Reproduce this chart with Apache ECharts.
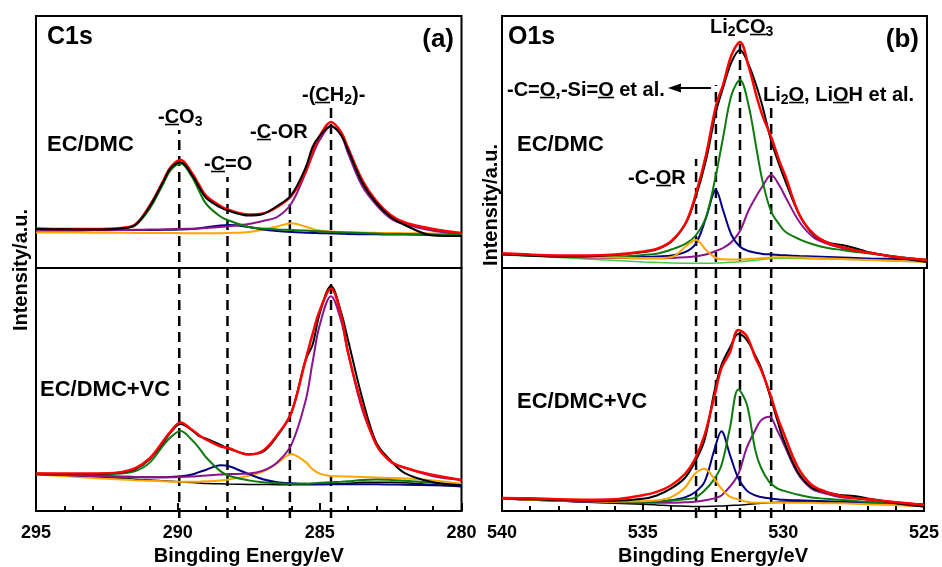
<!DOCTYPE html>
<html><head><meta charset="utf-8">
<script src="https://cdn.jsdelivr.net/npm/echarts@6/dist/echarts.min.js"></script>
<style>html,body{margin:0;padding:0;background:#fff}#c{width:942px;height:567px}</style>
</head><body><div id="c"></div>
<script>
// ---------- C1s (panel a) ----------
const energyA = [295, 294, 293, 292, 291.5, 291, 290.5, 290.25, 289.9, 289.5, 289.25, 289, 288.5, 288.2, 287.5, 287, 286.5, 286, 285.5, 285.25, 285, 284.6, 284.25, 284, 283.5, 283, 282.5, 282, 281, 280];
const ticksA = [295, 290, 285, 280];
// EC/DMC
const aTopRaw = [39, 38.7, 38.5, 39.5, 43, 61, 87, 100, 105.5, 93, 80.7, 70, 60.5, 57, 52.5, 54, 62, 73, 100, 121, 132, 142, 133, 118, 85.5, 65, 51, 43, 32.5, 32];
const aTopFit = [39.5, 39, 39, 40, 43.5, 62, 88, 101, 108, 95, 83, 72, 62, 58, 53.5, 54.5, 61, 72, 96, 116, 132, 146, 136, 120, 88, 67, 53, 45.5, 39, 35];
const aTopCO3 = [39, 39, 39, 39.5, 42.5, 59, 85, 98, 104.5, 91, 77, 64, 51.5, 47.5, 41, 39.5, 38.5, 38, 37.5, 37, 36.7, 36, 35.7, 35.5, 35, 34.5, 34, 34, 33.5, 33];
const aTopCO = [38, 38, 38, 38, 38, 38, 38.2, 38.3, 38.5, 39, 39.7, 40.7, 42.5, 43, 41, 38.5, 37, 36, 35.3, 35, 34.8, 34.5, 34.3, 34, 33.8, 33.7, 33.5, 33.4, 33, 32.7];
const aTopCOR = [35.5, 35.5, 35.3, 35.2, 35.1, 35, 35, 35, 34.8, 34.7, 34.7, 34.7, 34.8, 35, 36, 38.5, 41.5, 44.7, 41.5, 39, 37.5, 36.5, 36, 35.7, 35.5, 35.2, 35, 34.8, 34.5, 34];
const aTopCH2 = [37.5, 37.5, 37.7, 38, 38.2, 38.4, 38.6, 38.8, 39, 39.3, 39.6, 40, 41, 41.7, 44, 47, 51, 64.5, 95, 113, 128, 141.5, 133, 114.7, 82, 63, 49.7, 43.7, 37.3, 34];
// EC/DMC+VC
const aBotRaw = [38.5, 38, 38, 39.5, 43, 53, 71, 81, 89.5, 83, 77, 74.5, 68, 64, 58.5, 61, 77, 101, 155, 171, 203, 231.5, 205, 176, 116.3, 70, 52, 39, 29.5, 26.5];
const aBotFit = [38.7, 38.5, 38.5, 40, 44, 54, 72.5, 82, 91, 83.5, 78, 73.5, 66.5, 64.5, 58, 62, 78, 101, 155, 182, 206, 229, 202, 163, 108, 68, 51, 44.5, 37, 32];
const aBotCO3 = [37.5, 37.5, 37.7, 38.5, 41, 49.5, 68, 76, 82.3, 73, 64.7, 55, 41, 36.3, 31.5, 29.5, 28.5, 28, 28, 28.5, 29, 29.5, 30, 30.5, 32, 32.5, 32, 31, 29, 26.5];
const aBotCO = [38, 37, 36, 35.3, 35, 34.7, 34.7, 35, 35.7, 37.5, 40, 42.5, 47, 46, 38, 32.7, 29.7, 28.5, 28, 27.7, 27.5, 27.5, 27.5, 27.5, 27.5, 27.5, 27.3, 27, 26.5, 26];
const aBotCOR = [37.5, 36, 34, 32.5, 31.7, 31, 30.5, 30.2, 30, 30, 30.2, 30.5, 31.5, 32.5, 36.3, 40.5, 49, 58.5, 50.5, 43, 38.5, 36, 35.7, 35.5, 35, 34.5, 34, 33.5, 31.5, 28];
const aBotCH2 = [38, 37, 36, 35.3, 35, 34.7, 34.7, 34.8, 35, 35.5, 36, 36.5, 37.5, 38, 38.5, 41.5, 50, 68, 113, 153, 191, 221, 196.3, 163, 104.5, 69.7, 50.7, 44.7, 35.7, 32];
const aBotBg = [38, 36.5, 35, 33.5, 32.7, 32, 31, 30.5, 30, 29.2, 28.8, 28.4, 28, 27.7, 27.3, 27.2, 27.1, 27, 27, 27.1, 27.2, 27.5, 28, 28.5, 29.5, 29.7, 29.5, 29, 27, 25];
// peak position guides (eV) and their top heights
const dashA = [289.95, 288.25, 286.05, 284.6];
const dashATop = [388, 341, 365, 411];

// ---------- O1s (panel b) ----------
const energyB = [540, 539, 538, 537, 536, 535, 534.5, 534, 533.5, 533.15, 532.8, 532.45, 532.2, 531.9, 531.6, 531.3, 531, 530.8, 530.5, 530.2, 530, 529.5, 529, 528.5, 528, 527.5, 527, 526, 525];
const ticksB = [540, 535, 530, 525];
const bTopRaw = [13.7, 12.5, 11.5, 11.5, 13, 16, 19, 27, 45.5, 72, 108, 156, 180, 206, 218, 203.5, 180.3, 161, 127.3, 102, 87, 53, 33, 25.5, 23, 19.5, 15.5, 10, 6];
const bTopFit = [14.7, 13.5, 12.5, 12.5, 13.5, 16.5, 19.5, 27.5, 46, 75, 113, 162, 183, 213, 226, 202, 170, 152, 131, 106, 92, 53, 34, 25, 21, 17.5, 15, 10.5, 8];
const bTopLi2CO3 = [13.5, 12.5, 12, 11.5, 11.5, 13, 14.5, 18.7, 24.7, 33, 51, 93, 130, 173, 188, 163, 116.3, 86.3, 56.3, 43, 36.3, 28.7, 23.5, 20, 18, 16, 14.5, 11, 8];
const bTopCO = [14, 13, 12, 11.5, 11, 11, 11.5, 12.5, 16.3, 24.7, 50, 78, 58, 33, 21.3, 17, 15, 14, 13.5, 13, 12.7, 12, 11.5, 11, 10.5, 10, 9.5, 9, 8];
const bTopLi2O = [14, 12.5, 11.5, 10.5, 10, 9.7, 9.7, 10, 10.7, 11.7, 13.5, 17, 20, 26, 37, 57.5, 73, 82, 93, 82, 71.3, 46, 30.5, 24, 20, 17, 15, 11, 8];
const bTopCOR = [14, 13, 12, 11, 10.5, 10, 10, 11, 22, 28, 18, 10, 8.7, 8.5, 8.5, 9, 9.5, 10, 10.5, 10.7, 10.7, 10.5, 10, 9.5, 9, 8.5, 8, 7, 6.3];
const bTopBg = [13.5, 12, 10.5, 9, 7.5, 6, 5.5, 5, 4.7, 4.7, 4.7, 5, 5.2, 5.7, 6.3, 7, 8, 8.5, 9.5, 9.7, 9.7, 9.5, 9.2, 9, 8.7, 8.5, 8, 7, 6];
const bBotRaw = [13, 12, 11, 10.5, 10.5, 12.5, 16, 23, 34, 50, 73, 123, 150, 168, 182, 176, 160, 148, 121, 92, 74, 41, 24.5, 19.5, 16.5, 15.5, 13, 8, 4.5];
const bBotFit = [13.5, 13, 12, 11.5, 12, 16.3, 19.7, 26.3, 38, 53, 78, 118, 147, 163, 186.3, 180, 158, 146, 123, 96, 81, 46, 27, 20, 16, 13.5, 12, 9, 6.3];
const bBotLi2CO3 = [13, 12, 11, 10.5, 10, 9.5, 9.5, 10.5, 12, 13.5, 21, 33, 47, 85, 125, 110, 63, 45, 30, 23, 21, 17, 14, 12.5, 11.5, 10.5, 9.5, 8, 7];
const bBotCO = [13, 11.5, 10.5, 9.5, 9, 9, 9.5, 11, 14, 19, 30, 63, 82, 58, 33.7, 21, 16, 14.5, 13, 12, 11.5, 11, 10.5, 10, 9.5, 9, 8.5, 7.5, 6.5];
const bBotLi2O = [13, 11.5, 10.5, 9.5, 9, 8.5, 8.5, 8.5, 9, 9.5, 11, 13, 16, 25, 38, 65, 83, 93, 97, 82, 70, 39, 23, 18, 14.5, 13, 11.5, 9, 6.3];
const bBotCOR = [13, 11.5, 10.5, 10, 9.5, 10, 11, 14, 24, 38, 43.5, 33, 23, 14.7, 12, 9.5, 8.5, 8.5, 8.5, 8.5, 8.5, 8.5, 8.5, 8, 8, 7.5, 7, 6, 5];
const bBotBg = [12.5, 11.5, 10.5, 9, 8, 7, 6.3, 5.5, 5, 4.7, 4.7, 5, 5.2, 5.7, 6, 6.7, 7.5, 8, 8.5, 9, 9.2, 9.5, 9.5, 9.3, 9, 8.5, 8, 6.5, 4.5];
const dashB = [533.15, 532.45, 531.6, 530.5];
const dashBTop = [359, 433, 478, 410];

// ---------- chart ----------
const FF = '"Liberation Sans", Arial, Helvetica, sans-serif';
const C = {raw:'#000000', fit:'#ff0000', green:'#0e7a0e', navy:'#000080', purple:'#8b138b', orange:'#ffa500', bgGreen:'#44cc44'};

function pairs(xs, ys){ return xs.map((x,i)=>[x, ys[i]]); }
function ln(gi, xs, ys, color, w, z){
  return {type:'line', xAxisIndex:gi, yAxisIndex:gi, data:pairs(xs, ys), smooth:0.35, symbol:'none',
    lineStyle:{color:color, width:w}, z:z, silent:true, animation:false};
}
function dash(gi, e, top){
  return {type:'line', xAxisIndex:gi, yAxisIndex:gi, data:[[e,0],[e,top]], symbol:'none',
    lineStyle:{color:'#000', width:2.5, type:[10,6]}, z:1, silent:true, animation:false};
}

const grids = [
  {left:36, width:425.5, top:16, height:252},
  {left:36, width:425.5, top:268, height:250},
  {left:502, width:425, top:16, height:252},
  {left:502, width:425, top:268, height:250},
  {left:36, width:425.5, top:16, height:502},
  {left:502, width:425, top:16, height:502}
].map((g,i)=>Object.assign(g, {show: i<4, borderColor:'#000', borderWidth:2, backgroundColor:'transparent'}));

function xAx(gi, min, max, visible){
  return {gridIndex:gi, type:'value', min:min, max:max, interval:5, inverse:true, show:visible,
    axisLine:{show:true, onZero:false, lineStyle:{color:'#000', width:2}},
    axisTick:{show:true, inside:true, length:8, lineStyle:{color:'#000', width:2}},
    minorTick:{show:true, splitNumber:5, length:5, lineStyle:{color:'#000', width:2}},
    splitLine:{show:false},
    axisLabel:{color:'#000', fontSize:18, fontWeight:'bold', fontFamily:FF, margin:13},
    name:'Bingding Energy/eV', nameLocation:'middle', nameGap:35,
    nameTextStyle:{color:'#000', fontSize:20, fontWeight:'bold', fontFamily:FF}};
}
function yAx(gi, max){ return {gridIndex:gi, type:'value', min:0, max:max, show:false}; }

const xAxes = [xAx(0,280,295,false), xAx(1,280,295,true), xAx(2,525,540,false), xAx(3,525,540,true), xAx(4,280,295,false), xAx(5,525,540,false)];
const yAxes = [yAx(0,252), yAx(1,250), yAx(2,252), yAx(3,250), yAx(4,502), yAx(5,502)];

const series = [];
dashA.forEach((e,i)=>series.push(dash(4, e, dashATop[i])));
dashB.forEach((e,i)=>series.push(dash(5, e, dashBTop[i])));
// panel a top
series.push(ln(0, energyA, aTopCOR, C.orange, 2, 2), ln(0, energyA, aTopCO, C.navy, 2, 2), ln(0, energyA, aTopCH2, C.purple, 2, 2),
  ln(0, energyA, aTopCO3, C.green, 2, 2), ln(0, energyA, aTopFit, C.fit, 2.5, 3), ln(0, energyA, aTopRaw, C.raw, 2, 4));
// panel a bottom
series.push(ln(1, energyA, aBotBg, C.raw, 1.5, 1), ln(1, energyA, aBotCOR, C.orange, 2, 2), ln(1, energyA, aBotCO, C.navy, 2, 2),
  ln(1, energyA, aBotCH2, C.purple, 2, 2), ln(1, energyA, aBotCO3, C.green, 2, 2), ln(1, energyA, aBotRaw, C.raw, 2, 3), ln(1, energyA, aBotFit, C.fit, 2.5, 4));
// panel b top
series.push(ln(2, energyB, bTopBg, C.bgGreen, 1.5, 1), ln(2, energyB, bTopLi2O, C.purple, 2, 2), ln(2, energyB, bTopCO, C.navy, 2, 2),
  ln(2, energyB, bTopLi2CO3, C.green, 2, 2), ln(2, energyB, bTopCOR, C.orange, 2, 2), ln(2, energyB, bTopRaw, C.raw, 2, 3), ln(2, energyB, bTopFit, C.fit, 2.5, 4));
// panel b bottom
series.push(ln(3, energyB, bBotBg, C.raw, 1.5, 1), ln(3, energyB, bBotLi2O, C.purple, 2, 2), ln(3, energyB, bBotCO, C.navy, 2, 2),
  ln(3, energyB, bBotLi2CO3, C.green, 2, 2), ln(3, energyB, bBotCOR, C.orange, 2, 2), ln(3, energyB, bBotRaw, C.raw, 2, 3), ln(3, energyB, bBotFit, C.fit, 2.5, 4));

// underline image for rich text
function ulImg(){ const c=document.createElement('canvas'); c.width=4; c.height=24; const g=c.getContext('2d'); g.fillStyle='#000'; g.fillRect(0,20,4,2); return c; }
const UL = ulImg();
const rich = {
  u:{fontSize:20, fontWeight:'bold', fontFamily:FF, lineHeight:24, color:'#000', backgroundColor:{image:UL}},
  s:{fontSize:14, fontWeight:'bold', fontFamily:FF, lineHeight:8, verticalAlign:'bottom', color:'#000'}
};
function txt(x, y, text, size, align, rot){
  const el = {type:'text', x:x, y:y, z:100, silent:true,
    style:{text:text, fontSize:size, fontWeight:'bold', fontFamily:FF, fill:'#000', align:align||'left', verticalAlign:'middle', lineHeight:24, rich:rich}};
  if (rot) el.rotation = rot;
  return el;
}
const graphics = [
  txt(47, 37, 'C1s', 25), txt(454, 40, '(a)', 26, 'right'),
  txt(47, 145, 'EC/DMC', 22), txt(40, 390, 'EC/DMC+VC', 22),
  txt(158, 117, '-{u|C}O{s|3}', 20), txt(204, 164, '-{u|C}=O', 20), txt(250, 132, '-{u|C}-OR', 20), txt(302, 95, '-({u|C}H{s|2})-', 20),
  txt(21, 270, 'Intensity/a.u.', 20, 'center', Math.PI/2),
  txt(508, 37, 'O1s', 25), txt(919, 40, '(b)', 26, 'right'),
  txt(517, 145, 'EC/DMC', 22), txt(517, 402, 'EC/DMC+VC', 22),
  txt(710, 27, 'Li{s|2}C{u|O}{s|3}', 20), txt(507, 90, '-C={u|O},-Si={u|O} et al.', 20),
  txt(763, 95, 'Li{s|2}{u|O}, Li{u|O}H et al.', 20), txt(628, 178, '-C-{u|O}R', 20),
  txt(491, 205, 'Intensity/a.u.', 20, 'center', Math.PI/2),
  {type:'line', z:100, silent:true, shape:{x1:711, y1:88, x2:676, y2:88}, style:{stroke:'#000', lineWidth:2}},
  {type:'polygon', z:100, silent:true, shape:{points:[[668,88],[681,83.5],[681,92.5]]}, style:{fill:'#000'}}
];

const chart = echarts.init(document.getElementById('c'), null, {renderer:'canvas'});
chart.setOption({animation:false, backgroundColor:'#fff', grid:grids, xAxis:xAxes, yAxis:yAxes, series:series, graphic:graphics});
</script></body></html>
